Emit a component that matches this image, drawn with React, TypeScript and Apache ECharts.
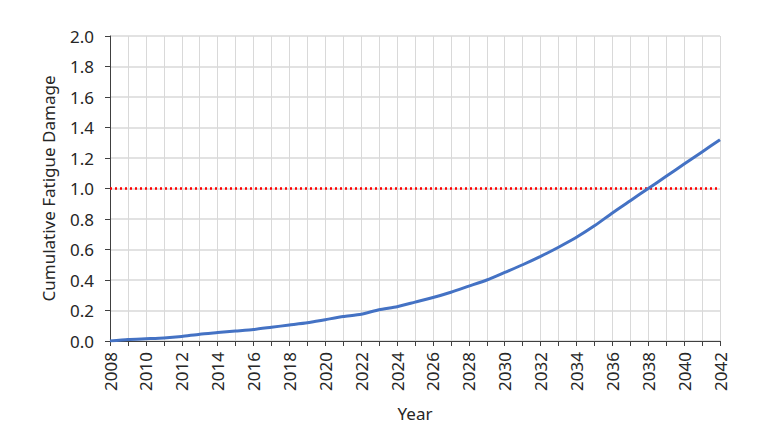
import React, { useEffect, useRef } from "react";
import * as echarts from "echarts";

const years = [2008,2009,2010,2011,2012,2013,2014,2015,2016,2017,2018,2019,2020,2021,2022,2023,2024,2025,2026,2027,2028,2029,2030,2031,2032,2033,2034,2035,2036,2037,2038,2039,2040,2041,2042];
const damage = [0.0,0.01,0.015,0.02,0.03,0.045,0.055,0.065,0.075,0.09,0.105,0.12,0.14,0.16,0.175,0.205,0.225,0.255,0.285,0.32,0.36,0.40,0.45,0.50,0.555,0.615,0.68,0.755,0.84,0.92,1.0,1.08,1.16,1.24,1.32];
const limitValue = 1.0;
const yTicks = { min: 0, max: 2, interval: 0.2 };

export default function App() {
  const ref = useRef<HTMLDivElement>(null);
  useEffect(() => {
    if (!ref.current) return;
    const chart = echarts.init(ref.current, null, { renderer: "svg" });
    const font = "Noto Sans";
    chart.setOption({
      animation: false,
      grid: { left: 110, right: 44, top: 36, bottom: 102 },
      xAxis: {
        type: "value",
        min: years[0],
        max: years[years.length - 1],
        interval: 1,
        name: "Year",
        nameLocation: "middle",
        nameGap: 64,
        nameTextStyle: { fontFamily: font, fontSize: 17, color: "#262626" },
        axisLine: { show: true, lineStyle: { color: "#404040", width: 1 } },
        axisTick: { show: true, length: 5, lineStyle: { color: "#404040" } },
        axisLabel: {
          rotate: 90,
          fontFamily: font,
          fontSize: 17,
          color: "#262626",
          margin: 11,
          formatter: (v: number) => (v % 2 === 0 ? String(v) : ""),
        },
        splitLine: { show: true, lineStyle: { color: "#d9d9d9", width: 1 } },
      },
      yAxis: {
        type: "value",
        min: yTicks.min,
        max: yTicks.max,
        interval: yTicks.interval,
        name: "Cumulative Fatigue Damage",
        nameLocation: "middle",
        nameGap: 53,
        nameTextStyle: { fontFamily: font, fontSize: 17, color: "#262626" },
        axisLine: { show: true, lineStyle: { color: "#404040", width: 1 } },
        axisTick: { show: true, length: 5, lineStyle: { color: "#404040" } },
        axisLabel: {
          fontFamily: font,
          fontSize: 17,
          color: "#262626",
          margin: 16,
          formatter: (v: number) => v.toFixed(1),
        },
        splitLine: { show: true, lineStyle: { color: "#d9d9d9", width: 1.5 } },
      },
      series: [
        {
          type: "line",
          data: years.map((y) => [y, limitValue]),
          symbol: "none",
          lineStyle: { color: "#ff0000", width: 2.5, type: [2, 3] },
          z: 3,
        },
        {
          type: "line",
          data: years.map((y, i) => [y, damage[i]]),
          symbol: "none",
          smooth: 0.2,
          lineStyle: { color: "#4472c4", width: 3 },
          z: 4,
        },
      ],
    });
    return () => chart.dispose();
  }, []);
  return <div ref={ref} style={{ width: 764, height: 443, margin: -8 }} />;
}
